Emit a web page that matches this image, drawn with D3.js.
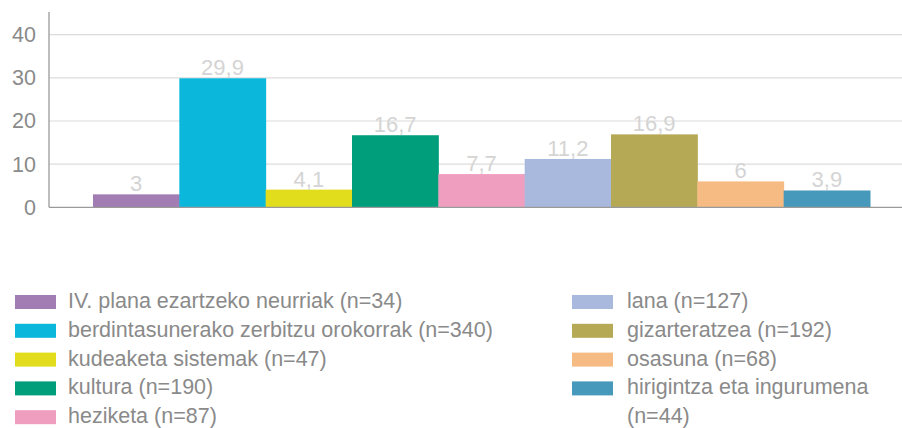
<!DOCTYPE html>
<html>
<head>
<meta charset="utf-8">
<script src="https://cdn.jsdelivr.net/npm/d3@7"></script>
<style>
  html, body { margin: 0; padding: 0; background: #fff; }
  svg { display: block; font-family: "Liberation Sans", Arial, Helvetica, sans-serif; }
</style>
</head>
<body>
<svg id="chart" width="902" height="428"></svg>
<script>
const categories = [
  "IV. plana ezartzeko neurriak (n=34)",
  "berdintasunerako zerbitzu orokorrak (n=340)",
  "kudeaketa sistemak (n=47)",
  "kultura (n=190)",
  "heziketa (n=87)",
  "lana (n=127)",
  "gizarteratzea (n=192)",
  "osasuna (n=68)",
  "hirigintza eta ingurumena (n=44)"
];
const values = [3, 29.9, 4.1, 16.7, 7.7, 11.2, 16.9, 6, 3.9];
const valueLabels = ["3", "29,9", "4,1", "16,7", "7,7", "11,2", "16,9", "6", "3,9"];
const colors = ["#a27db3", "#0cb7dc", "#e2dd1c", "#009e7b", "#f09ec0", "#a9b9dd", "#b5a955", "#f6bb83", "#4699ba"];
const yTicks = [0, 10, 20, 30, 40];

const svg = d3.select("#chart");

const x = d3.scaleBand().domain(categories).range([93, 870]).paddingInner(0).paddingOuter(0);
const y = d3.scaleLinear().domain([0, 40]).range([207.3, 34.7]);

// gridlines
svg.append("g").selectAll("line").data(yTicks.filter(d => d > 0)).join("line")
  .attr("x1", 49).attr("x2", 902)
  .attr("y1", d => y(d)).attr("y2", d => y(d))
  .attr("stroke", "#dcdcdc").attr("stroke-width", 1.2);

// bars
svg.append("g").selectAll("rect").data(categories).join("rect")
  .attr("x", d => x(d))
  .attr("width", x.bandwidth() + 0.5)
  .attr("y", (d, i) => y(values[i]))
  .attr("height", (d, i) => y(0) - y(values[i]))
  .attr("fill", (d, i) => colors[i]);

// value labels
svg.append("g").selectAll("text").data(categories).join("text")
  .attr("x", d => x(d) + x.bandwidth() / 2)
  .attr("y", (d, i) => y(values[i]) - 3)
  .attr("text-anchor", "middle")
  .attr("font-size", 22)
  .attr("fill", "#d4d4d4")
  .text((d, i) => valueLabels[i]);

// baseline
svg.append("line").attr("x1", 49).attr("x2", 902).attr("y1", y(0)).attr("y2", y(0))
  .attr("stroke", "#9a9a9a").attr("stroke-width", 1.3);

// y axis
const yAxis = d3.axisLeft(y).tickValues(yTicks).tickSize(0).tickPadding(13);
const ga = svg.append("g").attr("transform", "translate(49,0)").call(yAxis);
ga.select(".domain").remove();
ga.selectAll("text").attr("font-size", 21.5).attr("fill", "#8a8a8a")
  .attr("font-family", "'Liberation Sans', Arial, sans-serif");
svg.append("line").attr("x1", 49).attr("x2", 49).attr("y1", 12).attr("y2", y(0))
  .attr("stroke", "#9a9a9a").attr("stroke-width", 1.3);

// legend
const legendLeft = categories.slice(0, 5);
const legendRight = categories.slice(5);
const rowStart = 302, rowGap = 28.8;
const lg = svg.append("g");
function legendCol(items, offset, sx, tx) {
  items.forEach((c, j) => {
    const i = offset + j;
    const cy = rowStart + j * rowGap;
    lg.append("rect").attr("x", sx).attr("y", cy - 7).attr("width", 41).attr("height", 14)
      .attr("fill", colors[i]);
    const t = lg.append("text").attr("x", tx).attr("y", cy + 6).attr("font-size", 21.5).attr("fill", "#8a8a8a");
    if (c === "hirigintza eta ingurumena (n=44)") {
      t.append("tspan").attr("x", tx).text("hirigintza eta ingurumena");
      t.append("tspan").attr("x", tx).attr("dy", rowGap).text("(n=44)");
    } else {
      t.text(c);
    }
  });
}
legendCol(legendLeft, 0, 15, 68);
legendCol(legendRight, 5, 572, 627);
</script>
</body>
</html>
